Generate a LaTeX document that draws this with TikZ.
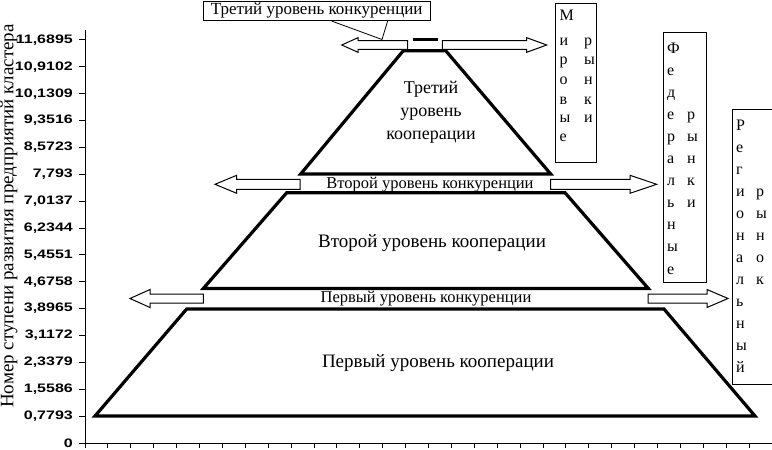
\documentclass[tikz,border=0pt]{standalone}
\usepackage{fontspec}
\setmainfont{Liberation Serif}
\newfontfamily\axisfont[FakeStretch=1.3]{Liberation Sans}
\tikzset{
  trap/.style={line width=3.2pt, line join=miter},
  barrowstyle/.style={draw=black, fill=white, line width=1pt, line join=miter},
  axislab/.style={font=\axisfont\bfseries\fontsize{12.3}{13}\selectfont, inner sep=0pt},
  coop/.style={font=\fontsize{19}{23}\selectfont, align=center, inner sep=0pt},
  comp/.style={font=\fontsize{16.5}{18}\selectfont, inner sep=0pt},
  mbox/.style={draw=black, line width=1pt, inner sep=0pt, anchor=north west},
  letter/.style={font=\fontsize{16}{16}\selectfont, inner sep=0pt, anchor=base west},
}
\newcommand{\blockarrow}[6]{% tail x, head base x, tip x, center y, shaft half, head half
  \draw[barrowstyle] (#1,#4-#5) -- (#2,#4-#5) -- (#2,#4-#6) -- (#3,#4) -- (#2,#4+#6) -- (#2,#4+#5) -- (#1,#4+#5) -- cycle;}
\begin{document}
\begin{tikzpicture}[x=1pt,y=-1pt]
\useasboundingbox (0,0) rectangle (772,450);
% axes
\draw[line width=1pt] (85,30) -- (85,443) -- (772,443);
\foreach \i/\lab in {0/{0},1/{0,7793},2/{1,5586},3/{2,3379},4/{3,1172},5/{3,8965},6/{4,6758},7/{5,4551},8/{6,2344},9/{7,0137},10/{7,793},11/{8,5723},12/{9,3516},13/{10,1309},14/{10,9102},15/{11,6895}}{
  \draw[line width=1pt] (79,{443-26.87*\i}) -- (85,{443-26.87*\i});
  \node[axislab, anchor=east] (yl\i) at (73,{443-26.87*\i}) {\lab};
}
\foreach \k in {0,...,30}{
  \draw[line width=1pt] ({85+22.9*\k},443) -- ({85+22.9*\k},448);
}
\node[rotate=90, font=\fontsize{19}{19}\selectfont, inner sep=0pt] (ytitle) at (9,216) {Номер ступени развития предприятий кластера};
% trapezoids
\draw[trap] (95,416) -- (186.7,309) -- (664,309) -- (755,416) -- cycle;
\draw[trap] (203.3,288.5) -- (286.7,192.7) -- (565,192.7) -- (648.3,288.5) -- cycle;
\draw[trap] (300.7,174) -- (403.3,50.7) -- (445.7,50.7) -- (550.7,174) -- cycle;
\draw[line width=3pt] (412.7,39) -- (438.3,39);
% block arrows
\blockarrow{203.3}{150}{130}{298.5}{4.5}{9}
\blockarrow{648}{707}{728}{298.5}{4.5}{9}
\blockarrow{300}{236.7}{215}{184.3}{5}{9}
\blockarrow{550.7}{630}{656.7}{184.3}{5}{9}
\blockarrow{407.7}{358}{341.7}{45}{4.3}{7.3}
\blockarrow{442.3}{526.7}{546.7}{45}{4.3}{7.3}
% texts
\node[coop, font=\fontsize{18}{23}\selectfont] (coop3) at (431,112) {Третий\\уровень\\кооперации};
\node[coop] (coop2) at (432,243) {Второй уровень кооперации};
\node[coop] (coop1) at (438,363) {Первый уровень кооперации};
\node[comp] (comp2) at (430,184.5) {Второй уровень конкуренции};
\node[comp] (comp1) at (426,299) {Первый уровень конкуренции};
% callout
\node[draw=black, line width=0.8pt, minimum width=226.7pt, minimum height=19.7pt, inner sep=0pt, font=\fontsize{17}{18}\selectfont] (callout) at (316.7,10.8) {Третий уровень конкуренции};
\coordinate (ctip) at (382,39.5);
\draw[line width=0.8pt] ([xshift=128.7pt]callout.south west) -- (ctip) -- ([xshift=184.7pt]callout.south west);
% market boxes
\node[mbox, minimum width=41pt, minimum height=159pt] (world) at (555,3) {};
\node[mbox, minimum width=43pt, minimum height=250pt] (fed) at (663,32) {};
\node[mbox, minimum width=40pt, minimum height=275pt] (reg) at (732,109) {};
\foreach \c/\yy [count=\n] in {М/20,и/45,р/64.5,о/84.5,в/104,ы/122.5,е/141.5}{
  \node[letter] (wl\n) at (559.5,\yy) {\c};
}
\foreach \c/\yy [count=\n] in {р/45,ы/64.5,н/84.5,к/104,и/122.5}{
  \node[letter] (wr\n) at (584,\yy) {\c};
}
\foreach \c [count=\n] in {Ф,е,д,е,р,а,л,ь,н,ы,е}{
  \node[letter] (fl\n) at (667,{53+22.1*(\n-1)}) {\c};
}
\foreach \c [count=\n] in {р,ы,н,к,и}{
  \node[letter] (fr\n) at (687,{119+22.1*(\n-1)}) {\c};
}
\foreach \c [count=\n] in {Р,е,г,и,о,н,а,л,ь,н,ы,й}{
  \node[letter] (rl\n) at (736,{130+22*(\n-1)}) {\c};
}
\foreach \c [count=\n] in {р,ы,н,о,к}{
  \node[letter] (rr\n) at (756,{196+22*(\n-1)}) {\c};
}
\end{tikzpicture}
\end{document}
